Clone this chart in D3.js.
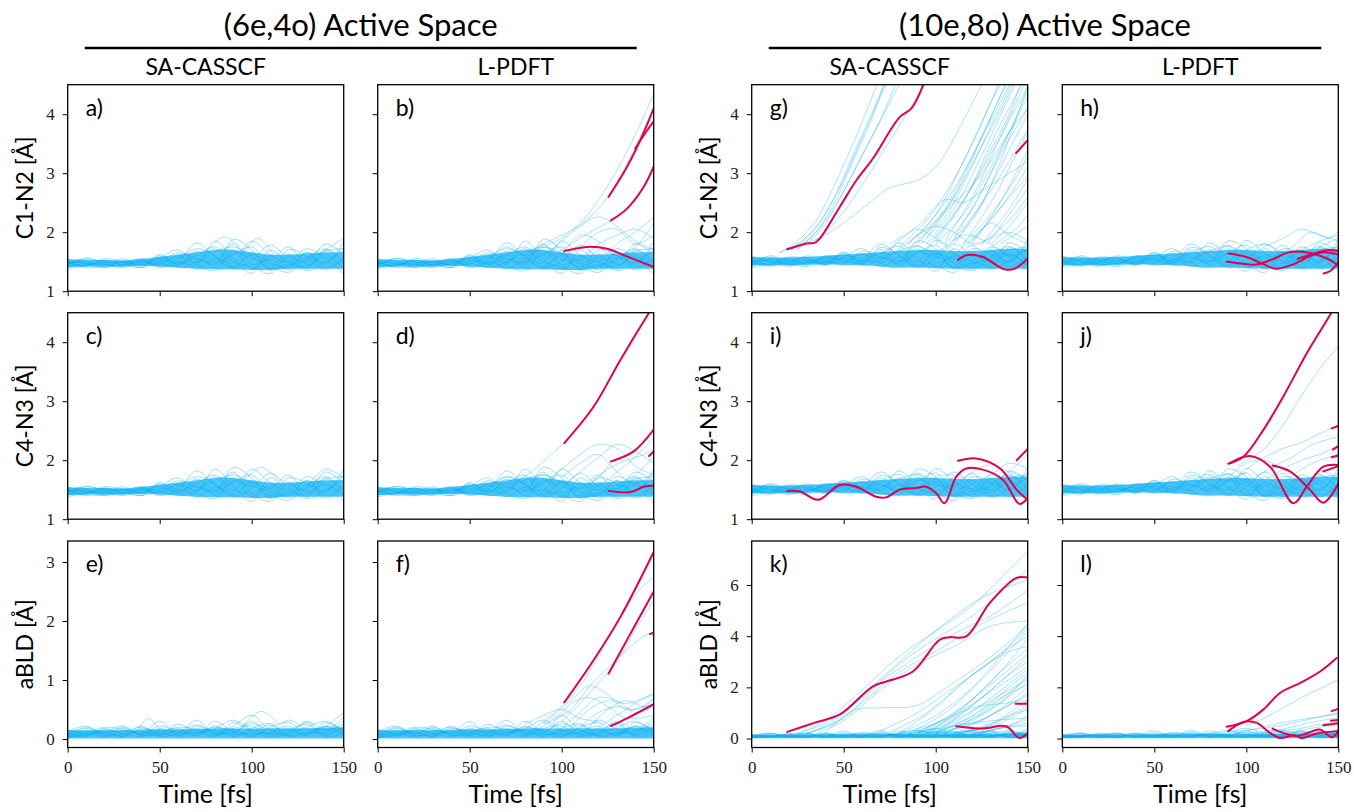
<!DOCTYPE html>
<html>
<head>
<meta charset="utf-8">
<script src="https://cdn.jsdelivr.net/npm/d3@7"></script>
<style>
  body { margin: 0; background: #fff; }
  svg text { font-family: Lato, "Open Sans", sans-serif; fill: #000; }
  .tick text { font-family: "Liberation Serif", serif; font-size: 17px; fill: #222; }
</style>
</head>
<body>
<svg id="chart" width="1354" height="812"></svg>
<script>
// sample times (fs) for the bundle trajectories
const timeGrid = [0, 10, 20, 30, 40, 50, 60, 70, 80, 90, 100, 110, 120, 130, 140, 150];

// bundle of bond lengths, (6e,4o) runs
const bondBand66 = [
  [1.45,1.52,1.42,1.50,1.44,1.55,1.46,1.62,1.40,1.70,1.38,1.60,1.42,1.66,1.40,1.58],
  [1.50,1.42,1.53,1.44,1.50,1.45,1.60,1.48,1.72,1.42,1.65,1.35,1.62,1.38,1.70,1.45],
  [1.40,1.48,1.46,1.42,1.52,1.48,1.42,1.68,1.50,1.80,1.45,1.55,1.36,1.58,1.48,1.75],
  [1.55,1.46,1.40,1.52,1.46,1.58,1.50,1.45,1.85,1.55,1.30,1.70,1.48,1.42,1.62,1.38],
  [1.48,1.55,1.50,1.45,1.40,1.50,1.65,1.55,1.48,1.62,1.75,1.45,1.32,1.55,1.72,1.50],
  [1.42,1.45,1.52,1.48,1.55,1.42,1.55,1.72,1.60,1.38,1.52,1.78,1.55,1.35,1.50,1.68],
  [1.52,1.40,1.44,1.55,1.42,1.60,1.40,1.50,1.66,1.75,1.60,1.40,1.70,1.60,1.36,1.55],
  [1.46,1.50,1.40,1.46,1.50,1.46,1.58,1.38,1.55,1.48,1.85,1.62,1.50,1.72,1.55,1.30],
  [1.38,1.44,1.48,1.50,1.45,1.52,1.48,1.60,1.75,1.50,1.42,1.30,1.58,1.48,1.80,1.62],
  [1.50,1.47,1.45,1.40,1.48,1.56,1.70,1.45,1.35,1.65,1.55,1.48,1.40,1.65,1.45,1.85],
  [1.44,1.56,1.48,1.44,1.53,1.40,1.50,1.82,1.58,1.40,1.62,1.52,1.75,1.45,1.58,1.40],
  [1.47,1.43,1.55,1.50,1.40,1.62,1.45,1.55,1.45,1.88,1.70,1.38,1.45,1.52,1.68,1.72]
];
const coreBond66Lo = [1.41,1.42,1.42,1.42,1.43,1.42,1.40,1.38,1.37,1.37,1.36,1.36,1.38,1.38,1.38,1.38];
const coreBond66Hi = [1.54,1.53,1.53,1.52,1.55,1.58,1.62,1.66,1.70,1.70,1.66,1.62,1.62,1.64,1.66,1.66];

// bundle of bond lengths, (10e,8o) runs
const bondBand108 = [
  [1.50,1.58,1.46,1.55,1.48,1.62,1.50,1.66,1.45,1.72,1.40,1.62,1.46,1.70,1.42,1.60],
  [1.45,1.48,1.56,1.46,1.58,1.50,1.64,1.48,1.70,1.44,1.68,1.38,1.66,1.40,1.74,1.50],
  [1.55,1.44,1.50,1.58,1.45,1.55,1.46,1.70,1.52,1.78,1.48,1.58,1.38,1.62,1.50,1.80],
  [1.42,1.52,1.44,1.48,1.56,1.60,1.55,1.50,1.82,1.56,1.34,1.72,1.50,1.45,1.66,1.40],
  [1.60,1.50,1.42,1.52,1.50,1.46,1.68,1.58,1.50,1.64,1.78,1.46,1.35,1.58,1.76,1.52],
  [1.48,1.55,1.52,1.44,1.60,1.52,1.48,1.74,1.62,1.40,1.55,1.80,1.58,1.38,1.52,1.70],
  [1.52,1.45,1.58,1.55,1.46,1.65,1.44,1.54,1.68,1.76,1.62,1.42,1.72,1.62,1.38,1.58],
  [1.46,1.54,1.48,1.60,1.52,1.48,1.62,1.42,1.58,1.50,1.86,1.64,1.52,1.75,1.58,1.34],
  [1.40,1.46,1.52,1.50,1.48,1.56,1.52,1.64,1.76,1.52,1.44,1.32,1.60,1.50,1.82,1.65],
  [1.57,1.50,1.46,1.42,1.52,1.58,1.72,1.48,1.40,1.66,1.58,1.50,1.42,1.68,1.48,1.88],
  [1.44,1.60,1.50,1.48,1.55,1.44,1.54,1.80,1.60,1.42,1.64,1.55,1.78,1.48,1.62,1.44],
  [1.50,1.42,1.55,1.52,1.44,1.66,1.48,1.58,1.48,1.85,1.72,1.40,1.48,1.55,1.70,1.75]
];
const coreBond108Lo = [1.44,1.44,1.44,1.45,1.45,1.45,1.44,1.42,1.40,1.40,1.39,1.38,1.38,1.38,1.38,1.38];
const coreBond108Hi = [1.58,1.57,1.57,1.58,1.60,1.62,1.64,1.66,1.68,1.70,1.70,1.68,1.68,1.70,1.72,1.72];

// bundle of aBLD values
const bldBand = [
  [0.05,0.15,0.08,0.20,0.06,0.12,0.18,0.05,0.22,0.10,0.30,0.08,0.15,0.25,0.06,0.18],
  [0.10,0.04,0.18,0.08,0.14,0.04,0.10,0.24,0.08,0.16,0.06,0.20,0.28,0.10,0.22,0.08],
  [0.02,0.08,0.12,0.04,0.18,0.10,0.06,0.14,0.04,0.28,0.12,0.04,0.10,0.30,0.14,0.26],
  [0.14,0.10,0.04,0.14,0.08,0.22,0.12,0.08,0.16,0.06,0.18,0.26,0.06,0.12,0.20,0.10],
  [0.08,0.18,0.10,0.06,0.12,0.06,0.25,0.12,0.20,0.14,0.08,0.12,0.22,0.05,0.28,0.14],
  [0.04,0.06,0.16,0.10,0.04,0.16,0.08,0.18,0.10,0.22,0.40,0.16,0.08,0.18,0.10,0.32],
  [0.12,0.22,0.06,0.12,0.20,0.08,0.14,0.06,0.30,0.12,0.04,0.18,0.14,0.08,0.16,0.06],
  [0.06,0.10,0.20,0.16,0.10,0.30,0.06,0.10,0.14,0.04,0.14,0.10,0.32,0.16,0.08,0.22],
  [0.10,0.06,0.12,0.22,0.06,0.10,0.20,0.16,0.06,0.18,0.22,0.06,0.12,0.20,0.30,0.12],
  [0.03,0.12,0.05,0.08,0.16,0.14,0.04,0.22,0.12,0.08,0.10,0.24,0.04,0.10,0.12,0.38],
  [0.16,0.08,0.14,0.04,0.22,0.06,0.16,0.10,0.18,0.32,0.16,0.08,0.18,0.06,0.22,0.16],
  [0.07,0.20,0.09,0.18,0.08,0.18,0.10,0.32,0.08,0.12,0.26,0.14,0.06,0.28,0.04,0.10]
];
const coreBldLo = [0.01,0.01,0.01,0.01,0.01,0.01,0.01,0.01,0.01,0.01,0.01,0.01,0.01,0.01,0.01,0.01];
const coreBldHi = [0.15,0.15,0.15,0.15,0.15,0.16,0.16,0.17,0.18,0.18,0.18,0.18,0.18,0.18,0.19,0.20];

// single trajectories that leave the bundle, [time, value]
const extraA = [
  [[75,1.65],[85,1.92],[95,1.7]],
  [[95,1.6],[103,1.9],[112,1.62]],
  [[135,1.6],[150,1.9]]
];
const extraB = [
  [[80,1.6],[90,1.8],[100,1.95],[110,2.12],[120,2.4],[130,2.85],[140,3.45],[150,4.1]],
  [[80,1.55],[90,1.75],[100,1.9],[110,2.15],[120,2.55],[130,3.05],[140,3.65],[150,4.35]],
  [[90,1.6],[100,1.85],[110,2.1],[120,2.26],[130,2.1],[140,1.85],[150,1.7]],
  [[90,1.55],[100,1.7],[110,1.9],[120,2.08],[127,2.2]],
  [[100,1.5],[110,1.75],[120,2.0],[130,2.05],[140,1.8],[150,1.95]],
  [[110,1.55],[120,1.8],[130,1.95],[140,2.05],[150,1.9]],
  [[100,1.6],[110,1.95],[120,1.85],[130,1.6],[140,1.75],[150,2.15]],
  [[120,1.5],[130,1.8],[140,2.0],[150,2.25]],
  [[60,1.55],[70,1.75],[80,1.6],[90,1.75],[100,1.65]]
];
const extraC = [
  [[95,1.6],[105,1.88],[115,1.65]],
  [[130,1.55],[140,1.85],[150,1.7]]
];
const extraD = [
  [[70,1.55],[80,1.72],[90,1.98],[101.4,2.29]],
  [[90,1.6],[100,1.85],[110,2.1],[120,2.27],[130,2.2],[140,1.9],[150,1.75]],
  [[100,1.55],[110,1.8],[120,2.05],[130,2.27],[140,2.15],[150,1.95]],
  [[110,1.5],[120,1.7],[127,1.98]],
  [[100,1.7],[110,1.95],[120,2.1],[130,1.8],[140,1.6],[150,1.8]],
  [[120,1.55],[130,1.8],[140,2.05],[150,2.4]],
  [[115,1.6],[125,1.85],[135,2.0],[145,2.1],[150,2.2]],
  [[60,1.5],[70,1.72],[80,1.6],[90,1.75],[100,1.62]],
  [[130,1.5],[140,1.75],[150,2.05]]
];
const extraE = [
  [[95,0.2],[105,0.47],[115,0.25]],
  [[38,0.15],[44,0.35],[50,0.15]],
  [[140,0.2],[150,0.45]]
];
const extraF = [
  [[90,0.3],[100,0.55],[110,0.9],[120,1.4],[130,1.95],[140,2.45],[150,2.75]],
  [[95,0.3],[105,0.5],[115,0.89],[125,1.2],[135,1.5],[145,1.75],[150,1.8]],
  [[100,0.3],[110,0.6],[120,0.95],[130,1.3],[140,1.85],[150,2.35]],
  [[90,0.25],[105,0.65],[115,0.9],[125,0.75],[135,0.5],[150,0.6]],
  [[95,0.25],[105,0.6],[115,0.7],[125,0.55],[135,0.35],[150,0.4]],
  [[100,0.2],[110,0.45],[120,0.7],[130,0.65],[140,0.45],[150,0.55]],
  [[105,0.2],[115,0.5],[125,0.65],[135,0.6],[145,0.7],[150,0.75]],
  [[110,0.2],[120,0.45],[130,0.55],[140,0.5],[150,0.68]],
  [[80,0.25],[90,0.4],[100,0.5],[110,0.35],[120,0.3]],
  [[115,0.2],[125,0.5],[135,0.65],[145,0.55],[150,0.7]],
  [[120,0.2],[130,0.4],[140,0.6],[150,0.78]]
];
const extraG = [
  [[15,1.65],[25,1.8],[35,2.1],[45,2.6],[55,3.3],[65,4.0],[72,4.5],[75,4.7]],
  [[15,1.65],[25,1.85],[35,2.2],[45,2.8],[55,3.5],[63,4.1],[68,4.5],[71,4.7]],
  [[20,1.7],[30,1.9],[40,2.3],[50,2.9],[60,3.6],[70,4.3],[73,4.5],[76,4.7]],
  [[20,1.7],[30,1.85],[40,2.2],[50,2.7],[60,3.3],[70,3.9],[78,4.5],[81,4.7]],
  [[25,1.7],[35,1.95],[45,2.4],[55,3.0],[65,3.6],[75,4.2],[80,4.5],[83,4.7]],
  [[25,1.72],[35,2.0],[45,2.5],[55,3.2],[65,3.9],[72,4.5],[75,4.7]],
  [[30,1.75],[40,2.0],[50,2.35],[60,2.8],[70,3.3],[80,3.8],[90,4.3],[94,4.5],[97,4.7]],
  [[20,1.7],[40,1.95],[60,2.4],[75,2.75],[90,2.88],[100,3.1],[110,3.6],[120,4.2],[125,4.5],[128,4.7]],
  [[80,1.75],[95,2.2],[110,2.9],[120,3.5],[130,4.2],[134,4.5],[137,4.7]],
  [[85,1.8],[100,2.3],[115,3.2],[130,4.2],[135,4.5],[138,4.7]],
  [[85,1.8],[95,2.1],[105,2.5],[115,3.0],[125,3.6],[135,4.2],[140,4.5],[143,4.7]],
  [[90,1.8],[105,2.4],[120,3.3],[135,4.3],[138,4.5],[141,4.7]],
  [[90,1.9],[100,2.2],[110,2.5],[120,2.8],[130,3.2],[140,3.7],[150,4.1]],
  [[95,1.8],[110,2.4],[125,3.3],[140,4.3],[143,4.5],[146,4.7]],
  [[95,1.9],[110,2.6],[125,3.6],[135,4.3],[138,4.5],[141,4.7]],
  [[100,1.85],[115,2.5],[130,3.5],[145,4.4],[147,4.5],[150,4.7]],
  [[100,1.8],[115,2.3],[130,3.1],[145,4.0],[150,4.3]],
  [[100,1.9],[110,2.3],[120,2.8],[130,3.4],[140,4.0],[146,4.5],[149,4.7]],
  [[105,1.8],[120,2.4],[135,3.3],[150,4.1]],
  [[105,1.85],[120,2.6],[135,3.6],[148,4.5],[150,4.65]],
  [[110,1.8],[125,2.5],[140,3.4],[150,4.0]],
  [[110,1.9],[125,2.7],[140,3.7],[150,4.4]],
  [[110,1.85],[120,2.2],[130,2.8],[140,3.6],[148,4.3],[150,4.5]],
  [[115,1.8],[130,2.5],[145,3.4],[150,3.7]],
  [[115,1.8],[130,2.3],[145,3.0],[150,3.3]],
  [[120,1.8],[135,2.5],[150,3.4]],
  [[120,1.85],[135,2.4],[150,3.1]],
  [[125,1.8],[140,2.4],[150,2.9]],
  [[125,1.8],[140,2.2],[150,2.6]],
  [[130,1.8],[140,2.1],[150,2.5]],
  [[130,1.75],[145,2.1],[150,2.3]],
  [[135,1.8],[150,2.1]],
  [[75,1.8],[90,2.1],[105,2.55],[115,2.5],[125,2.7],[140,3.0],[150,3.2]],
  [[88,1.8],[100,2.15],[112,2.7],[124,3.4],[136,4.1],[142,4.5],[145,4.7]],
  [[92,1.8],[106,2.3],[118,3.0],[130,3.8],[140,4.45],[142,4.7]],
  [[98,1.85],[112,2.4],[126,3.1],[140,3.9],[150,4.45]],
  [[108,1.8],[122,2.35],[136,3.0],[150,3.75]],
  [[118,1.8],[132,2.3],[150,2.95]],
  [[128,1.8],[140,2.3],[150,2.75]],
  [[70,1.6],[80,1.85],[90,2.05],[100,1.9],[110,1.7]],
  [[80,1.7],[90,1.95],[100,2.1],[110,2.0],[120,1.8],[130,1.9],[140,2.0],[150,1.85]],
  [[100,1.6],[115,1.95],[130,1.8],[140,1.6],[150,1.7]],
  [[110,1.6],[120,1.9],[130,2.15],[140,1.95],[150,1.8]]
];
const extraH = [
  [[100,1.55],[110,1.75],[120,1.9],[130,2.05],[140,1.95],[150,1.85]],
  [[110,1.5],[125,1.75],[135,2.0],[145,1.9],[150,2.02]],
  [[120,1.5],[130,1.7],[140,1.85],[150,1.95]],
  [[90,1.5],[100,1.7],[110,1.8],[120,1.65],[130,1.55],[140,1.75],[150,1.9]]
];
const extraI = [
  [[110,1.55],[120,1.8],[130,1.92],[140,1.8],[150,1.7]],
  [[120,1.6],[130,1.75],[140,1.95],[150,1.85]],
  [[130,1.6],[140,1.8],[145,1.95],[150,2.1]],
  [[90,1.5],[100,1.72],[110,1.75],[120,1.6]]
];
const extraJ = [
  [[95,1.9],[110,2.2],[120,2.6],[130,3.1],[140,3.55],[150,3.93]],
  [[100,1.85],[110,2.05],[120,2.2],[130,2.3],[140,2.45],[150,2.6]],
  [[105,1.7],[115,1.9],[125,2.05],[135,2.25],[150,2.4]],
  [[110,1.65],[120,1.85],[130,2.0],[140,2.1],[150,2.25]],
  [[90,1.7],[100,1.95],[110,2.0],[120,1.85],[130,1.7]],
  [[120,1.6],[130,1.85],[140,2.0],[150,2.1]],
  [[70,1.55],[80,1.72],[90,1.65],[100,1.8]]
];
const extraK = [
  [[25,0.2],[40,0.6],[60,1.6],[80,2.9],[100,3.9],[120,4.8],[140,6.0],[150,6.6]],
  [[25,0.2],[40,0.7],[60,1.9],[80,3.2],[100,4.2],[120,5.2],[140,6.6],[150,7.3]],
  [[30,0.2],[45,0.6],[60,1.4],[80,2.6],[100,3.4],[120,4.3],[140,5.0],[150,5.3]],
  [[30,0.2],[50,0.8],[70,2.2],[90,3.2],[110,4.1],[130,4.8],[150,5.8]],
  [[35,0.2],[50,0.7],[70,1.9],[90,2.9],[110,3.6],[130,4.4],[150,4.6]],
  [[40,0.2],[55,1.1],[70,1.2],[90,1.3],[110,2.2],[130,3.2],[150,4.4]],
  [[30,0.2],[45,0.7],[65,2.0],[85,3.3],[105,4.5],[125,5.5],[150,6.2]],
  [[80,0.2],[100,0.9],[120,2.0],[150,4.5]],
  [[85,0.2],[105,1.0],[125,2.3],[150,4.2]],
  [[90,0.2],[110,1.0],[130,2.2],[150,3.9]],
  [[80,0.2],[100,1.2],[120,2.5],[140,3.4],[150,3.6]],
  [[95,0.2],[115,1.2],[135,2.6],[150,3.5]],
  [[90,0.2],[110,0.8],[130,1.9],[150,3.2]],
  [[100,0.2],[120,1.3],[140,2.5],[150,3.0]],
  [[85,0.2],[105,0.7],[125,1.6],[150,2.8]],
  [[100,0.2],[120,0.9],[140,2.0],[150,2.6]],
  [[105,0.2],[125,1.0],[140,1.8],[150,2.4]],
  [[95,0.2],[115,0.6],[135,1.4],[150,2.2]],
  [[110,0.2],[130,0.9],[150,2.0]],
  [[100,0.2],[120,0.6],[140,1.3],[150,1.8]],
  [[110,0.2],[130,0.6],[150,1.5]],
  [[115,0.2],[135,0.6],[150,1.2]],
  [[120,0.2],[140,0.5],[150,0.9]],
  [[90,0.2],[110,0.5],[130,0.7],[150,0.8]],
  [[80,0.2],[100,0.6],[120,1.2],[140,1.4],[150,1.5]],
  [[70,0.3],[90,1.0],[110,2.0],[130,3.0],[150,4.3]],
  [[75,0.25],[95,1.0],[115,2.2],[135,3.3],[150,4.0]],
  [[110,0.2],[125,0.4],[140,0.9],[150,1.3]],
  [[120,0.2],[135,0.4],[150,0.6]],
  [[100,0.2],[115,0.3],[130,0.4],[150,0.5]],
  [[88,0.2],[108,0.9],[128,2.0],[150,3.3]],
  [[92,0.2],[112,0.7],[132,1.7],[150,2.7]],
  [[98,0.2],[118,0.8],[138,1.7],[150,2.1]],
  [[104,0.2],[124,0.7],[142,1.4],[150,1.7]],
  [[112,0.2],[128,0.5],[144,1.0],[150,1.1]],
  [[95,0.2],[110,0.4],[125,0.9],[140,1.7],[150,2.5]],
  [[85,0.2],[100,0.4],[115,0.9],[130,1.5],[150,2.3]],
  [[118,0.2],[132,0.35],[150,0.75]]
];
const extraL = [
  [[100,0.5],[110,0.8],[120,1.2],[130,1.6],[140,1.95],[150,2.3]],
  [[100,0.3],[115,0.55],[130,0.75],[150,0.95]],
  [[110,0.25],[125,0.45],[140,0.7],[150,0.8]],
  [[95,0.3],[110,0.4],[125,0.6],[140,0.85],[150,1.0]],
  [[120,0.2],[135,0.4],[150,0.55]],
  [[110,0.3],[125,0.35],[140,0.55],[150,0.65]]
];

// highlighted (red) trajectory segments, [time, value]
const redB = [
  [[125.5,2.6],[130,2.82],[135,3.08],[140,3.38],[145,3.72],[150,4.1]],
  [[140,3.42],[145,3.66],[150,3.88]],
  [[126.8,2.2],[135.5,2.4],[144.6,2.77],[150,3.11]],
  [[101.4,1.68],[113.7,1.75],[124.6,1.72],[137,1.57],[150,1.41]]
];
const redD = [
  [[101.4,2.29],[117.4,2.91],[131.9,3.7],[147.3,4.49],[150,4.62]],
  [[126.8,1.98],[139.1,2.15],[150,2.52]],
  [[147.5,2.07],[150,2.15]],
  [[125.5,1.48],[137.3,1.46],[144.6,1.55],[150,1.57]]
];
const redF = [
  [[101.4,0.62],[117.4,1.34],[131.9,2.07],[150,3.17]],
  [[125.5,1.11],[135.5,1.68],[150,2.5]],
  [[148,1.78],[150,1.8]],
  [[126.8,0.22],[135.5,0.35],[150,0.59]]
];
const redG = [
  [[19.3,1.71],[29.8,1.81],[34.3,1.82],[37,1.89],[47.9,2.43],[56.9,2.88],[65.9,3.25],[80.4,3.95],[86.8,4.1],[93.1,4.49],[95,4.7]],
  [[112.1,1.53],[116.6,1.61],[125.6,1.58],[137.4,1.37],[142.8,1.38],[150,1.55]],
  [[143.7,3.34],[150,3.56]]
];
const redH = [
  [[90.2,1.64],[100,1.58],[110,1.45],[116,1.38],[125,1.45],[135,1.6],[142,1.66],[150,1.62]],
  [[89.3,1.5],[97,1.47],[105,1.45],[115,1.55],[122,1.65],[130,1.67],[140,1.6],[147,1.5],[150,1.42]],
  [[142,1.3],[146,1.35],[150,1.5]],
  [[128,1.55],[138,1.65],[145,1.7],[150,1.68]]
];
const redI = [
  [[19.3,1.48],[26.2,1.47],[36.1,1.33],[47.9,1.58],[56.9,1.55],[67.8,1.38],[73,1.37],[80.4,1.5],[89,1.53],[94.9,1.55],[100.3,1.44],[104.8,1.27],[111.2,1.72],[116.6,1.86],[125.6,1.84],[136.5,1.67],[145.5,1.26],[150,1.36]],
  [[112.1,1.99],[122,2.03],[135,1.86],[144,1.5],[150,1.33]],
  [[144,2.0],[150,2.19]]
];
const redJ = [
  [[90.2,1.94],[98.4,2.06],[109.2,2.51],[120.1,3.08],[132.8,3.81],[145.5,4.46],[148,4.6]],
  [[91,1.95],[102,2.07],[112.9,1.89],[125.6,1.27],[132.8,1.55],[141.9,1.89],[150,1.92]],
  [[114.3,1.91],[123.8,1.81],[134.6,1.5],[141.9,1.28],[150,1.6]],
  [[141.9,1.81],[150,1.9]],
  [[146.4,2.54],[150,2.58]],
  [[147,2.18],[150,2.24]],
  [[146.4,2.05],[150,2.08]]
];
const redK = [
  [[19.3,0.26],[35.3,0.64],[47.9,0.94],[65.9,2.04],[73.2,2.23],[87.6,2.62],[102.1,3.86],[107.5,3.96],[116.6,3.99],[129.3,5.29],[143.7,6.27],[150,6.29]],
  [[111.2,0.48],[125.6,0.39],[138.3,0.48],[145.5,0.02],[150,0.22]],
  [[143.4,1.36],[150,1.36]]
];
const redL = [
  [[89.3,0.46],[100.2,0.68],[109.2,1.13],[118.3,1.78],[129.2,2.17],[140.1,2.62],[149.1,3.15]],
  [[90.2,0.29],[98.4,0.65],[105.7,0.61],[112.9,0.22],[118.3,0.02],[126,0.13],[130.1,0.02],[138.3,0.2],[150,0.29]],
  [[114.3,0.39],[120,0.22],[127,0.1],[132.8,0.2],[140,0.35],[146.5,0.05],[150,0.3]],
  [[146.4,1.07],[150,1.16]],
  [[141.9,0.52],[150,0.6]],
  [[146,0.7],[150,0.72]]
];

const xTicks = [0, 50, 100, 150];
const bondTicks = [1, 2, 3, 4];
const bldTicksLeft = [0, 1, 2, 3];
const bldTicksRight = [0, 2, 4, 6];
const rowLabels = ['C1-N2 [Å]', 'C4-N3 [Å]', 'aBLD [Å]'];
const groupTitles = ['(6e,4o) Active Space', '(10e,8o) Active Space'];
const methodTitles = ['SA-CASSCF', 'L-PDFT'];

const bond66 = { band: bondBand66, lo: coreBond66Lo, hi: coreBond66Hi };
const bond108 = { band: bondBand108, lo: coreBond108Lo, hi: coreBond108Hi };
const bld = { band: bldBand, lo: coreBldLo, hi: coreBldHi };

const panels = [
  { id: 'a', row: 0, col: 0, bundle: bond66, extra: extraA, red: [] },
  { id: 'b', row: 0, col: 1, bundle: bond66, extra: extraB, red: redB },
  { id: 'c', row: 1, col: 0, bundle: bond66, extra: extraC, red: [] },
  { id: 'd', row: 1, col: 1, bundle: bond66, extra: extraD, red: redD },
  { id: 'e', row: 2, col: 0, bundle: bld, extra: extraE, red: [] },
  { id: 'f', row: 2, col: 1, bundle: bld, extra: extraF, red: redF },
  { id: 'g', row: 0, col: 2, bundle: bond108, extra: extraG, red: redG },
  { id: 'h', row: 0, col: 3, bundle: bond108, extra: extraH, red: redH },
  { id: 'i', row: 1, col: 2, bundle: bond108, extra: extraI, red: redI },
  { id: 'j', row: 1, col: 3, bundle: bond108, extra: extraJ, red: redJ },
  { id: 'k', row: 2, col: 2, bundle: bld, extra: extraK, red: redK },
  { id: 'l', row: 2, col: 3, bundle: bld, extra: extraL, red: redL }
];

// layout
const colLeft = [67.7, 377.7, 751.7, 1062.3];
const rowTop = [84.7, 312.7, 541];
const panelW = 276;
const panelH = 206.5;

const blue = '#05b0f5';
const red = '#e3004f';

const svg = d3.select('#chart');

const x = d3.scaleLinear().domain([0, 150]).range([0, panelW]);

function yScaleFor(row, col) {
  if (row < 2) return d3.scaleLinear().domain([1, 4.5]).range([panelH, 0]);
  if (col < 2) return d3.scaleLinear().domain([-0.144, 3.356]).range([panelH, 0]);
  return d3.scaleLinear().domain([-0.35, 7.72]).range([panelH, 0]);
}
function yTicksFor(row, col) {
  if (row < 2) return bondTicks;
  return col < 2 ? bldTicksLeft : bldTicksRight;
}

panels.forEach((p) => {
  const y = yScaleFor(p.row, p.col);
  const g = svg
    .append('g')
    .attr('transform', `translate(${colLeft[p.col]}, ${rowTop[p.row]})`);

  g.append('clipPath')
    .attr('id', `clip-${p.id}`)
    .append('rect')
    .attr('width', panelW)
    .attr('height', panelH);

  const plot = g.append('g').attr('clip-path', `url(#clip-${p.id})`);

  const curve = d3.curveCatmullRom.alpha(0.5);

  // dense core of the bundle
  const core = d3
    .area()
    .x((d, i) => x(timeGrid[i]))
    .y0((d) => y(d[0]))
    .y1((d) => y(d[1]))
    .curve(curve);
  plot
    .append('path')
    .attr('d', core(d3.zip(p.bundle.lo, p.bundle.hi)))
    .attr('fill', '#08b0f4')
    .attr('opacity', 0.72);

  const gridLine = d3
    .line()
    .x((d, i) => x(timeGrid[i]))
    .y((d) => y(d))
    .curve(curve);
  const pairLine = d3
    .line()
    .x((d) => x(d[0]))
    .y((d) => y(d[1]))
    .curve(curve);

  plot
    .append('g')
    .selectAll('path')
    .data(p.bundle.band)
    .join('path')
    .attr('d', gridLine)
    .attr('fill', 'none')
    .attr('stroke', blue)
    .attr('stroke-opacity', 0.4)
    .attr('stroke-width', 1);

  plot
    .append('g')
    .selectAll('path')
    .data(p.extra)
    .join('path')
    .attr('d', pairLine)
    .attr('fill', 'none')
    .attr('stroke', blue)
    .attr('stroke-opacity', 0.35)
    .attr('stroke-width', 1);

  plot
    .append('g')
    .selectAll('path')
    .data(p.red)
    .join('path')
    .attr('d', pairLine)
    .attr('fill', 'none')
    .attr('stroke', red)
    .attr('stroke-width', 2)
    .attr('stroke-linecap', 'round');

  // axes
  const showX = p.row === 2;
  const showY = p.col === 0 || p.col === 2;

  const xAxis = g
    .append('g')
    .attr('transform', `translate(0, ${panelH})`)
    .call(
      d3
        .axisBottom(x)
        .tickValues(xTicks)
        .tickSize(5)
        .tickPadding(8)
        .tickFormat((d) => (showX ? d : ''))
    );
  const yAxis = g.append('g').call(
    d3
      .axisLeft(y)
      .tickValues(yTicksFor(p.row, p.col))
      .tickSize(5)
      .tickPadding(8)
      .tickFormat((d) => (showY ? d : ''))
  );
  [xAxis, yAxis].forEach((ax) => {
    ax.select('.domain').remove();
    ax.selectAll('.tick line').attr('stroke', '#000').attr('stroke-width', 1);
  });

  g.append('rect')
    .attr('width', panelW)
    .attr('height', panelH)
    .attr('fill', 'none')
    .attr('stroke', '#000')
    .attr('stroke-width', 1.3);

  g.append('text')
    .attr('x', 18)
    .attr('y', 31)
    .style('font-size', '23px')
    .text(p.id + ')');

  if (showY) {
    g.append('text')
      .attr('transform', `translate(-43, ${panelH / 2}) rotate(-90)`)
      .attr('text-anchor', 'middle')
      .attr('dy', '0.35em')
      .style('font-size', '23px')
      .text(rowLabels[p.row]);
  }
  if (showX) {
    g.append('text')
      .attr('x', panelW / 2)
      .attr('y', panelH + 55)
      .attr('text-anchor', 'middle')
      .style('font-size', '25px')
      .text('Time [fs]');
  }
});

// group headers
[0, 1].forEach((gi) => {
  const left = colLeft[gi * 2];
  const right = colLeft[gi * 2 + 1] + panelW;
  const mid = (left + right) / 2;
  svg
    .append('text')
    .attr('x', mid)
    .attr('y', 36)
    .attr('text-anchor', 'middle')
    .style('font-size', '31px')
    .text(groupTitles[gi]);
  svg
    .append('line')
    .attr('x1', left + 17)
    .attr('x2', right - 17)
    .attr('y1', 48)
    .attr('y2', 48)
    .attr('stroke', '#000')
    .attr('stroke-width', 2.5);
  methodTitles.forEach((m, mi) => {
    svg
      .append('text')
      .attr('x', colLeft[gi * 2 + mi] + panelW / 2)
      .attr('y', 75)
      .attr('text-anchor', 'middle')
      .style('font-size', '23px')
      .text(m);
  });
});
</script>
</body>
</html>
